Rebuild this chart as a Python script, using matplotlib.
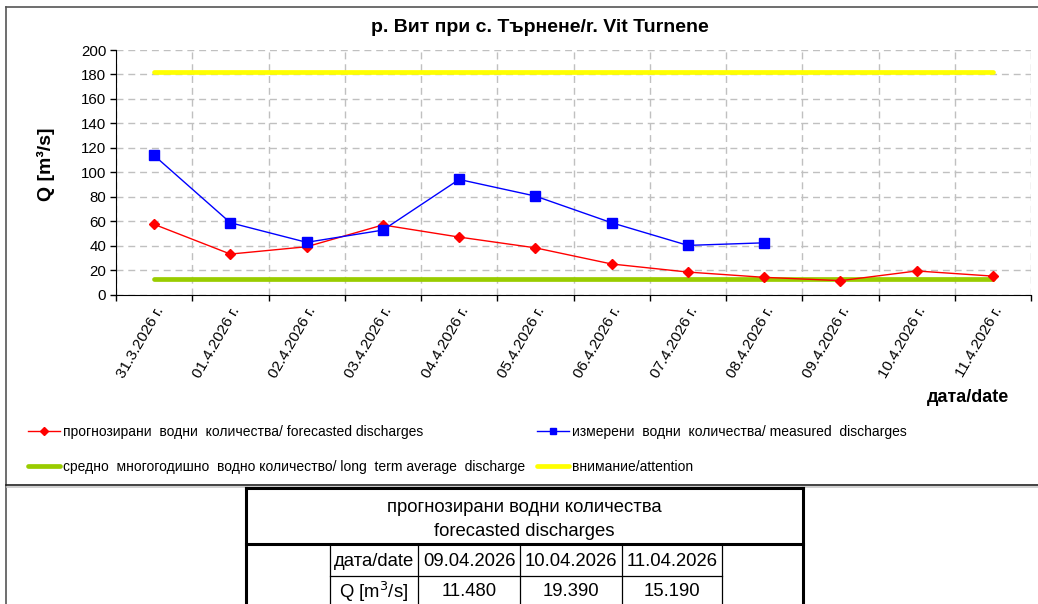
import numpy as np
import matplotlib.pyplot as plt
from matplotlib.lines import Line2D

plt.rcParams['font.family'] = ['Liberation Sans', 'DejaVu Sans']

# --- data ---
dates = ['31.3.2026 г.', '01.4.2026 г.', '02.4.2026 г.', '03.4.2026 г.',
         '04.4.2026 г.', '05.4.2026 г.', '06.4.2026 г.', '07.4.2026 г.',
         '08.4.2026 г.', '09.4.2026 г.', '10.4.2026 г.', '11.4.2026 г.']
forecast = [57.5, 33.2, 39.2, 57.0, 47.1, 38.3, 25.1, 18.5, 14.2, 11.48, 19.39, 15.19]
measured = [113.8, 58.8, 42.8, 52.8, 94.2, 80.6, 58.8, 40.3, 42.4, np.nan, np.nan, np.nan]
long_term_avg = 13.1
attention = 181.8

table_dates = ['09.04.2026', '10.04.2026', '11.04.2026']
table_values = forecast[-3:]

title = 'р. Вит при с. Търнене/r. Vit Turnene'
lbl_fc = 'прогнозирани  водни  количества/ forecasted discharges'
lbl_ms = 'измерени  водни  количества/ measured  discharges'
lbl_avg = 'средно  многогодишно  водно количество/ long  term average  discharge'
lbl_att = 'внимание/attention'

W, H = 1038, 604
fig = plt.figure(figsize=(W / 100, H / 100), dpi=100)

# pixel-space canvas for the frame and the table below the chart
bg = fig.add_axes([0, 0, 1, 1])
bg.set_xlim(0, W)
bg.set_ylim(H, 0)
bg.axis('off')
frame = '#555555'
bg.plot([6, W], [7, 7], color=frame, lw=1.2)
bg.plot([6, 6], [7, H], color=frame, lw=1.2)
bg.plot([6, W], [485, 485], color='#222222', lw=1.2)
bg.plot([7, W], [487, 487], color='#c8c8c8', lw=1.2)

# table
tfs = 13.3
thick = dict(color='black', lw=2.2, solid_capstyle='projecting')
thin = dict(color='black', lw=0.9)
bg.plot([246, 246], [488, H], **thick)
bg.plot([803, 803], [488, H], **thick)
bg.plot([246, 803], [488, 488], **thick)
bg.plot([246, 803], [544, 544], **thick)
col_x = [330, 418, 520, 622, 722]
for cx in col_x:
    bg.plot([cx, cx], [545, H], **thin)
bg.plot([col_x[0], col_x[-1]], [576, 576], **thin)
bg.text(524.5, 507, 'прогнозирани водни количества', ha='center', va='center', fontsize=tfs)
bg.text(524.5, 531, 'forecasted discharges', ha='center', va='center', fontsize=tfs)
bg.text((col_x[0] + col_x[1]) / 2, 562, 'дата/date', ha='center', va='center', fontsize=tfs)
bg.text((col_x[0] + col_x[1]) / 2, 592, r'Q [m$^3$/s]', ha='center', va='center', fontsize=tfs)
for i, (d, v) in enumerate(zip(table_dates, table_values)):
    xc = (col_x[i + 1] + col_x[i + 2]) / 2
    bg.text(xc, 562, d, ha='center', va='center', fontsize=tfs)
    bg.text(xc, 592, f'{v:.3f}', ha='center', va='center', fontsize=tfs)

# --- main chart ---
ax = fig.add_axes([116 / W, 1 - 294.7 / H, 915 / W, 244.7 / H])
x = np.arange(len(dates))

ax.plot(x, [attention] * len(x), color='#ffff00', lw=3.4, solid_capstyle='round', zorder=2)
ax.plot(x, [long_term_avg] * len(x), color='#99cc00', lw=3.4, solid_capstyle='round', zorder=2)
ax.plot(x, forecast, color='red', lw=1, marker='D', ms=5.5, zorder=3)
ax.plot(x, measured, color='blue', lw=1, marker='s', ms=7, zorder=4)

ax.set_xlim(-0.5, len(dates) - 0.5)
ax.set_ylim(0, 200)
ax.set_yticks(np.arange(0, 201, 20))
ax.set_xticks(x)
ax.set_xticks(np.arange(-0.5, len(dates), 1), minor=True)
ax.set_xticklabels(dates, rotation=60, ha='right', va='top', rotation_mode='anchor', fontsize=11)
ax.tick_params(axis='x', which='major', length=0, pad=7)
ax.tick_params(axis='x', which='minor', length=4, width=1, direction='out')
ax.tick_params(axis='y', length=4, width=1, direction='out', pad=3, labelsize=10.8)

grid = dict(color='#c0c0c0', lw=1, linestyle=(0, (5, 3.5)))
ax.grid(which='minor', axis='x', **grid)
ax.grid(which='major', axis='y', **grid)
ax.set_axisbelow(True)
for s in ['top', 'right']:
    ax.spines[s].set_visible(False)

fig.text(540 / W, 1 - 28 / H, title, ha='center', va='center', fontsize=14, fontweight='bold')
fig.text(46 / W, 1 - 164 / H, 'Q [m³/s]', rotation=90, ha='center', va='center',
         fontsize=14, fontweight='bold')
fig.text(1009 / W, 1 - 397 / H, 'дата/date', ha='right', va='center', fontsize=13, fontweight='bold')

# legend: two columns placed like the original
h_fc = Line2D([], [], color='red', lw=1, marker='D', ms=4)
h_ms = Line2D([], [], color='blue', lw=1, marker='s', ms=5)
h_avg = Line2D([], [], color='#99cc00', lw=3.4, solid_capstyle='round')
h_att = Line2D([], [], color='#ffff00', lw=3.4, solid_capstyle='round')
leg_kw = dict(loc='upper left', frameon=False, fontsize=10, handlelength=2.3,
              handletextpad=0.2, labelspacing=1.5, borderaxespad=0, borderpad=0)
leg1 = fig.legend([h_fc, h_avg], [lbl_fc, lbl_avg], bbox_to_anchor=(28 / W, 1 - 425 / H), **leg_kw)
leg2 = fig.legend([h_ms, h_att], [lbl_ms, lbl_att], bbox_to_anchor=(537 / W, 1 - 425 / H), **leg_kw)

fig.savefig('out.png', dpi=100)
